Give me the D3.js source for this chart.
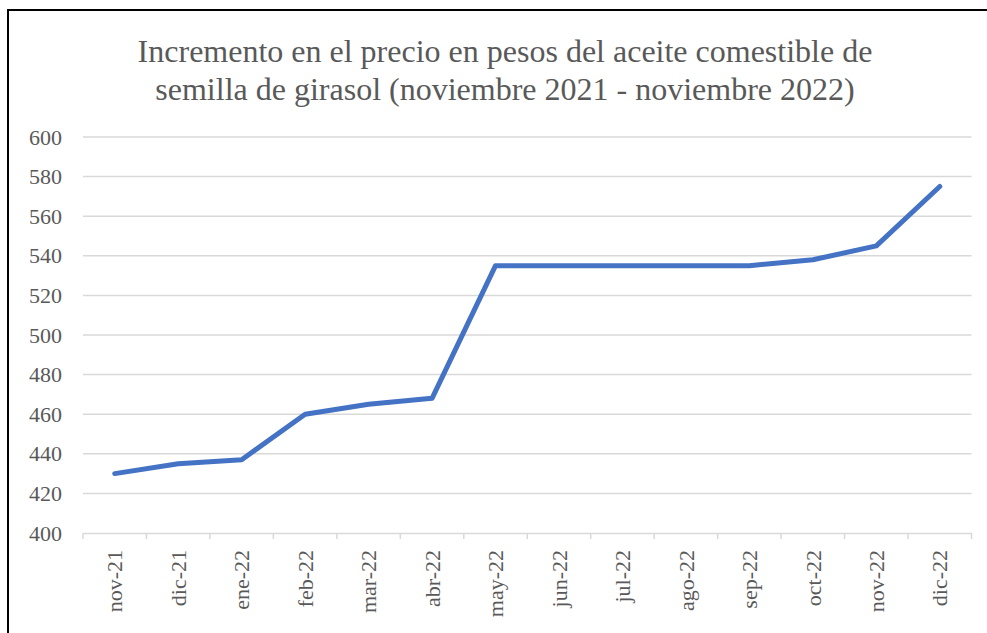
<!DOCTYPE html>
<html lang="es">
<head>
<meta charset="UTF-8" />
<title>Aceite de girasol</title>
<script src="https://d3js.org/d3.v7.min.js"></script>
<style>
  body { margin: 0; background: #fff; }
  svg, svg text { font-family: "Liberation Serif", "Times New Roman", serif; }
</style>
</head>
<body>
<div id="chart"></div>
<script>
// months shown on the x axis
const months = ["nov-21", "dic-21", "ene-22", "feb-22", "mar-22", "abr-22", "may-22",
                "jun-22", "jul-22", "ago-22", "sep-22", "oct-22", "nov-22", "dic-22"];
// price in pesos
const prices = [430, 435, 437, 460, 465, 468, 535, 535, 535, 535, 535, 538, 545, 575];
const yTicks = [400, 420, 440, 460, 480, 500, 520, 540, 560, 580, 600];
const titleLines = ["Incremento en el precio en pesos del aceite comestible de",
                    "semilla de girasol (noviembre 2021 - noviembre 2022)"];

const width = 987, height = 633;
const margin = { top: 137, right: 15.5, bottom: 100, left: 83 };
const serif = '"Liberation Serif", "Times New Roman", serif';

const svg = d3.select("#chart").append("svg")
  .attr("width", width)
  .attr("height", height);

// frame (only left and top edges visible in the crop)
svg.append("path")
  .attr("d", `M8,${height} V10 H${width}`)
  .attr("fill", "none")
  .attr("stroke", "#000")
  .attr("stroke-width", 2);

const x = d3.scaleBand()
  .domain(months)
  .range([margin.left, width - margin.right]);

const y = d3.scaleLinear()
  .domain([400, 600])
  .range([height - margin.bottom, margin.top]);

// title
svg.append("g")
  .selectAll("text")
  .data(titleLines)
  .join("text")
  .attr("x", 505)
  .attr("y", (d, i) => 62 + i * 38)
  .attr("text-anchor", "middle")
  .attr("fill", "#595959")
  .attr("font-size", 32)
  .style("font-family", serif)
  .text(d => d);

// gridlines
svg.append("g")
  .selectAll("line")
  .data(yTicks.slice(1))
  .join("line")
  .attr("x1", margin.left)
  .attr("x2", width - margin.right)
  .attr("y1", d => y(d))
  .attr("y2", d => y(d))
  .attr("stroke", "#d9d9d9")
  .attr("stroke-width", 1.5);

// y axis labels
const yAxis = svg.append("g")
  .attr("transform", `translate(${margin.left},0)`)
  .call(d3.axisLeft(y).tickValues(yTicks).tickSize(0).tickPadding(21));
yAxis.attr("font-family", null);
yAxis.select(".domain").remove();
yAxis.selectAll("text")
  .attr("fill", "#595959")
  .attr("font-size", 22)
  .style("font-family", serif);

// x axis
const xAxis = svg.append("g")
  .attr("transform", `translate(0,${y(400)})`)
  .call(d3.axisBottom(x).tickSize(0));
xAxis.attr("font-family", null);
xAxis.select(".domain")
  .attr("stroke", "#d9d9d9")
  .attr("stroke-width", 1.5);
xAxis.selectAll(".tick line").remove();

// small tick marks at band edges
const edges = months.map(m => x(m)).concat([x.range()[1]]);
svg.append("g")
  .selectAll("line")
  .data(edges)
  .join("line")
  .attr("x1", d => d)
  .attr("x2", d => d)
  .attr("y1", y(400))
  .attr("y2", y(400) + 6)
  .attr("stroke", "#d9d9d9")
  .attr("stroke-width", 1.5);

xAxis.selectAll("text")
  .attr("fill", "#595959")
  .attr("font-size", 22)
  .style("font-family", serif)
  .attr("text-anchor", "end")
  .attr("dy", "0.35em")
  .attr("transform", "translate(0,17) rotate(-90)")
  .attr("x", 0)
  .attr("y", 0);

// price line
const line = d3.line()
  .x((d, i) => x(months[i]) + x.bandwidth() / 2)
  .y(d => y(d));

svg.append("path")
  .datum(prices)
  .attr("d", line)
  .attr("fill", "none")
  .attr("stroke", "#4472c4")
  .attr("stroke-width", 5)
  .attr("stroke-linejoin", "round")
  .attr("stroke-linecap", "round");
</script>
</body>
</html>
